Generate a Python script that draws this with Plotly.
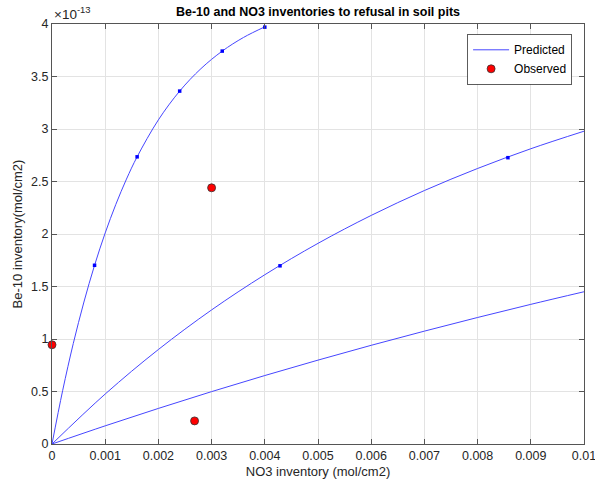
import plotly.graph_objects as go

# NO3 inventory (mol/cm2) and Be-10 inventory (units of 1e-13 mol/cm2)
pred1_x = [0, 0.0002, 0.0004, 0.0006, 0.0008, 0.0010, 0.0012, 0.0014, 0.0016, 0.0020, 0.0024, 0.0028, 0.0032, 0.0036, 0.0040]
pred1_y = [0, 0.508, 0.957, 1.352, 1.702, 2.010, 2.282, 2.523, 2.735, 3.087, 3.361, 3.575, 3.742, 3.872, 3.973]

pred2_x = [0, 0.001, 0.002, 0.003, 0.004, 0.005, 0.006, 0.007, 0.008, 0.009, 0.010]
pred2_y = [0, 0.476, 0.900, 1.277, 1.612, 1.911, 2.177, 2.414, 2.624, 2.812, 2.979]

pred3_x = [0, 0.001, 0.002, 0.003, 0.004, 0.005, 0.006, 0.007, 0.008, 0.009, 0.010]
pred3_y = [0, 0.173, 0.339, 0.499, 0.652, 0.799, 0.940, 1.075, 1.205, 1.330, 1.450]

dots_x = [0.0008, 0.0016, 0.0024, 0.0032, 0.0040, 0.004286, 0.00857]
dots_y = [1.702, 2.735, 3.361, 3.742, 3.970, 1.697, 2.727]

obs_x = [0.0, 0.0030, 0.00268]
obs_y = [0.945, 2.44, 0.22]

x_ticks = [0, 0.001, 0.002, 0.003, 0.004, 0.005, 0.006, 0.007, 0.008, 0.009, 0.01]
x_ticktext = ["0", "0.001", "0.002", "0.003", "0.004", "0.005", "0.006", "0.007", "0.008", "0.009", "0.01"]
y_ticks = [0, 0.5, 1, 1.5, 2, 2.5, 3, 3.5, 4]
y_ticktext = ["0", "0.5", "1", "1.5", "2", "2.5", "3", "3.5", "4"]

FONT = "Liberation Sans, Arial, Helvetica, sans-serif"
LINE = "rgb(70,70,255)"

fig = go.Figure()
for i, (xs, ys) in enumerate([(pred1_x, pred1_y), (pred2_x, pred2_y), (pred3_x, pred3_y)]):
    fig.add_trace(go.Scatter(x=xs, y=ys, mode="lines", line=dict(color=LINE, width=1, shape="spline"),
                             name="Predicted", showlegend=(i == 0), hoverinfo="skip"))
fig.add_trace(go.Scatter(x=dots_x, y=dots_y, mode="markers",
                         marker=dict(color="blue", size=3.5, symbol="square"), showlegend=False))
fig.add_trace(go.Scatter(x=obs_x, y=obs_y, mode="markers", name="Observed",
                         marker=dict(color="red", size=8, line=dict(color="#333", width=0.8)), cliponaxis=False))

axis_common = dict(showline=True, linecolor="#555", linewidth=1, mirror="ticks", ticks="inside",
                   ticklen=5, tickcolor="#555", showgrid=True, gridcolor="#e3e3e3", gridwidth=1,
                   zeroline=False, automargin=False, ticklabeloverflow="allow",
                   tickfont=dict(family=FONT, size=12.5, color="#262626"))

fig.update_layout(
    width=595, height=485,
    margin=dict(l=52, r=11, t=24, b=41),
    paper_bgcolor="white", plot_bgcolor="white",
    font=dict(family=FONT, color="#262626"),
    title=dict(text="<b>Be-10 and NO3 inventories to refusal in soil pits</b>", x=(52 + 584) / 2 / 595, xanchor="center",
               y=1 - 12 / 485, yanchor="middle", font=dict(size=12.5, color="black", family=FONT)),
    xaxis=dict(range=[0, 0.0100001], tickvals=x_ticks, ticktext=x_ticktext,
               title=dict(text="NO3 inventory (mol/cm2)", font=dict(size=13, family=FONT, color="#262626"), standoff=4),
               **axis_common),
    yaxis=dict(range=[0, 4.00001], tickvals=y_ticks, ticktext=y_ticktext,
               title=dict(text="Be-10 inventory(mol/cm2)", font=dict(size=13, family=FONT, color="#262626"), standoff=5),
               **axis_common),
    legend=dict(x=0.978, y=0.975, xanchor="right", yanchor="top", bgcolor="white",
                bordercolor="#333", borderwidth=0.8, font=dict(size=12, family=FONT, color="black"),
                itemwidth=36, tracegroupgap=0),
    showlegend=True,
)
fig.add_annotation(text="\u00d710<sup>-13</sup>", xref="paper", yref="paper", x=0, y=1, xanchor="left",
                   yanchor="bottom", yshift=0, showarrow=False, font=dict(size=13.5, family=FONT, color="#262626"))

fig.write_html("out.html", config={"displayModeBar": False},
               post_script="document.body.style.margin='0';document.body.style.padding='0';")
